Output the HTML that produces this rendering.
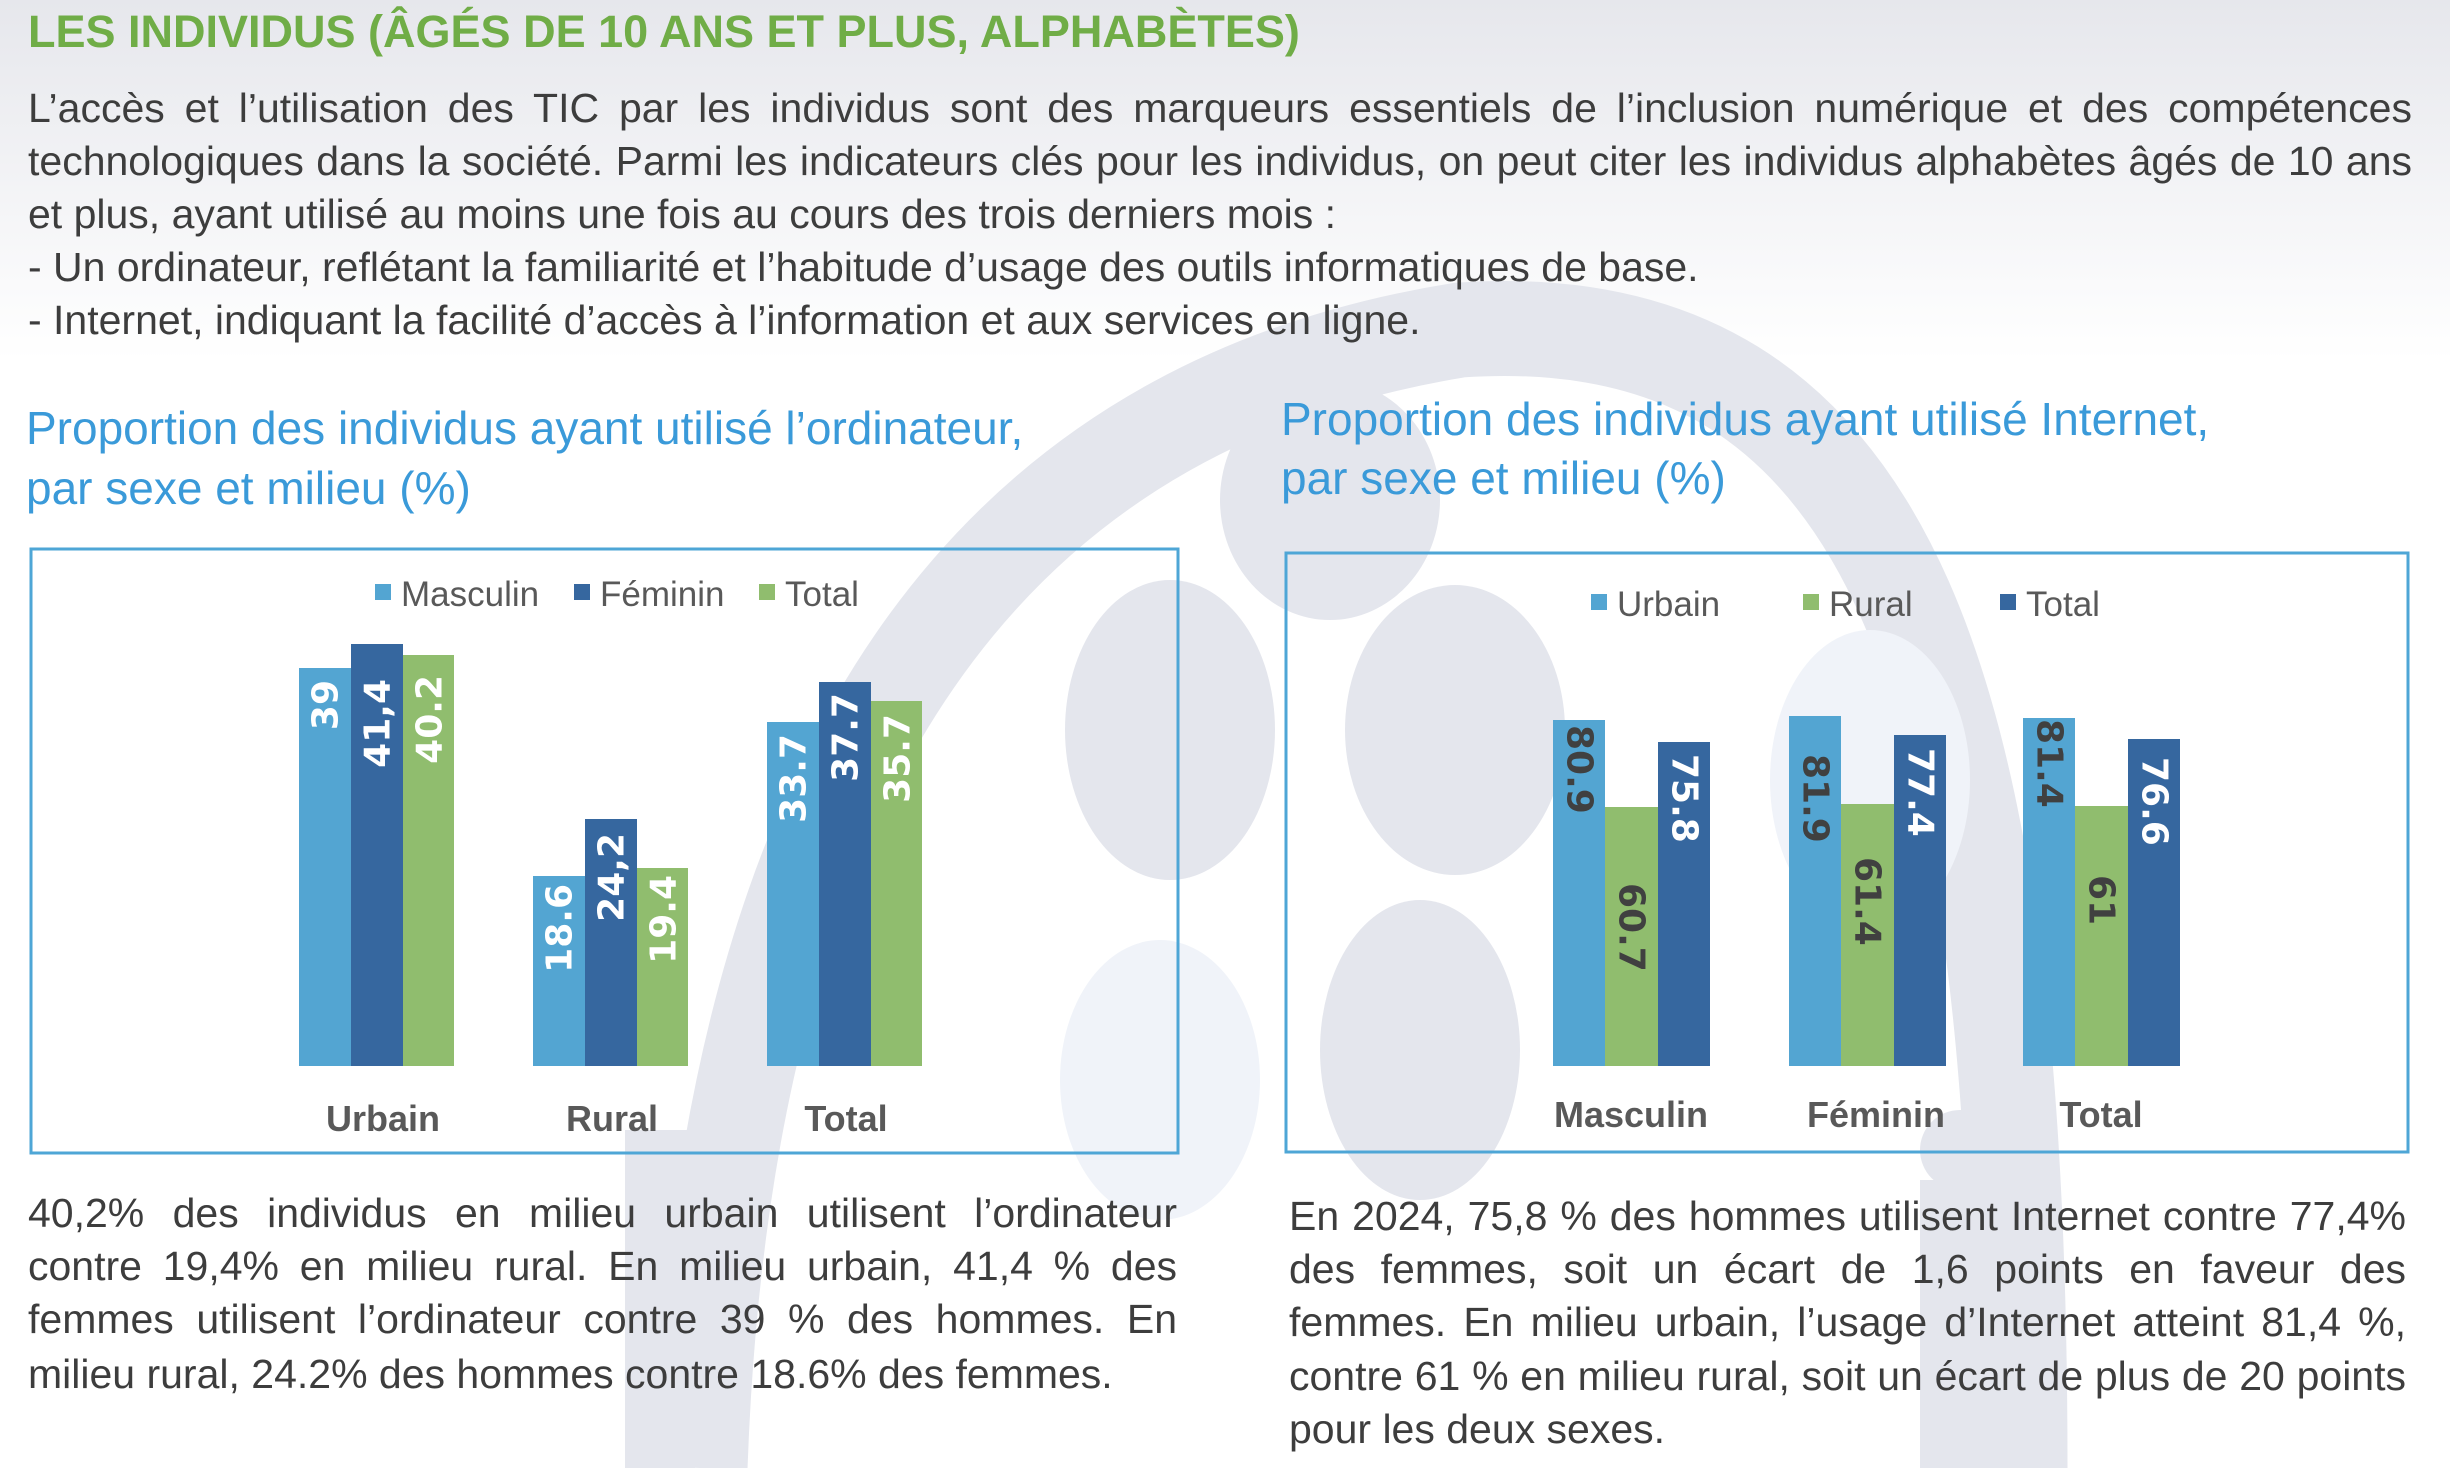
<!DOCTYPE html>
<html><head><meta charset="utf-8"><style>
html,body{margin:0;padding:0}
body{width:2450px;height:1468px;position:relative;overflow:hidden;background:#fff;font-family:"Liberation Sans",sans-serif;color:#3d3d3d}
.bg{position:absolute;left:0;top:0}
.t{position:absolute;white-space:nowrap}
.j{position:absolute;text-align:justify;text-align-last:justify;white-space:nowrap;font-size:41px;color:#3d3d3d}
.l{position:absolute;white-space:nowrap;font-size:41px;color:#3d3d3d}
.ct{position:absolute;font-size:46px;color:#3a9ad9;white-space:nowrap}
</style></head><body>
<svg class="bg" width="2450" height="1468" viewBox="0 0 2450 1468">
<defs><linearGradient id="g" x1="0" y1="0" x2="0" y2="1"><stop offset="0" stop-color="#e6e7ec"/><stop offset="1" stop-color="#ffffff"/></linearGradient></defs>
<rect x="0" y="0" width="2450" height="360" fill="url(#g)"/>
<g fill="none" stroke="#e4e6ed" stroke-width="95">
<path d="M700 1468 C 720 900, 900 420, 1460 330 C 1900 300, 2020 700, 2020 1468"/>
</g>
<g fill="#e4e6ed">
<ellipse cx="1170" cy="730" rx="105" ry="150"/>
<ellipse cx="1455" cy="730" rx="110" ry="145"/>
<ellipse cx="1420" cy="1050" rx="100" ry="150"/>
<ellipse cx="1330" cy="500" rx="110" ry="120"/>
<rect x="625" y="1130" width="70" height="338"/>
<rect x="1920" y="1180" width="80" height="288"/>
<circle cx="1960" cy="1150" r="40"/>
</g>
<g fill="#f0f3f9"><ellipse cx="1160" cy="1080" rx="100" ry="140"/><ellipse cx="1870" cy="780" rx="100" ry="150"/></g>
</svg>

<div class="t" style="left:28px;top:6px;font-size:45px;font-weight:bold;color:#70ad47">LES INDIVIDUS (ÂGÉS DE 10 ANS ET PLUS, ALPHABÈTES)</div>
<div class="j" style="left:28px;top:85px;width:2384px">L’accès et l’utilisation des TIC par les individus sont des marqueurs essentiels de l’inclusion numérique et des compétences</div>
<div class="j" style="left:28px;top:138px;width:2384px">technologiques dans la société. Parmi les indicateurs clés pour les individus, on peut citer les individus alphabètes âgés de 10 ans</div>
<div class="l" style="left:28px;top:191px">et plus, ayant utilisé au moins une fois au cours des trois derniers mois :</div>
<div class="l" style="left:28px;top:244px">- Un ordinateur, reflétant la familiarité et l’habitude d’usage des outils informatiques de base.</div>
<div class="l" style="left:28px;top:297px">- Internet, indiquant la facilité d’accès à l’information et aux services en ligne.</div>

<div class="ct" style="left:26px;top:401px">Proportion des individus ayant utilisé l’ordinateur,</div>
<div class="ct" style="left:26px;top:461px">par sexe et milieu (%)</div>
<div class="ct" style="left:1281px;top:392px">Proportion des individus ayant utilisé Internet,</div>
<div class="ct" style="left:1281px;top:451px">par sexe et milieu (%)</div>

<svg class="bg" width="2450" height="1468" viewBox="0 0 2450 1468" style="font-family:'Liberation Sans Narrow','Liberation Sans',sans-serif">
<rect x="31" y="549" width="1147" height="604" fill="none" stroke="#4ea6d6" stroke-width="3"/>
<rect x="1286" y="553" width="1122" height="599" fill="none" stroke="#4ea6d6" stroke-width="3"/>
<g font-size="35" fill="#595959">
<rect x="375" y="584" width="16" height="16" fill="#53a5d2"/><text x="401" y="606">Masculin</text>
<rect x="574" y="584" width="16" height="16" fill="#36679f"/><text x="600" y="606">Féminin</text>
<rect x="759" y="584" width="16" height="16" fill="#90bd6e"/><text x="785" y="606">Total</text>
<rect x="1591" y="594" width="16" height="16" fill="#53a5d2"/><text x="1617" y="616">Urbain</text>
<rect x="1803" y="594" width="16" height="16" fill="#90bd6e"/><text x="1829" y="616">Rural</text>
<rect x="2000" y="594" width="16" height="16" fill="#36679f"/><text x="2026" y="616">Total</text>
</g>
<g>
<rect x="299" y="668" width="52" height="398" fill="#53a5d2"/><rect x="351" y="644" width="52" height="422" fill="#36679f"/><rect x="403" y="655" width="51" height="411" fill="#90bd6e"/>
<rect x="533" y="876" width="52" height="190" fill="#53a5d2"/><rect x="585" y="819" width="52" height="247" fill="#36679f"/><rect x="637" y="868" width="51" height="198" fill="#90bd6e"/>
<rect x="767" y="722" width="52" height="344" fill="#53a5d2"/><rect x="819" y="682" width="52" height="384" fill="#36679f"/><rect x="871" y="701" width="51" height="365" fill="#90bd6e"/>
</g>
<g font-family="'DejaVu Sans',sans-serif" font-weight="bold" font-size="36" fill="#fff" text-anchor="end" dominant-baseline="central">
<text transform="translate(326,680) rotate(-90)">39</text>
<text transform="translate(378,679) rotate(-90)">41,4</text>
<text transform="translate(430,675) rotate(-90)">40.2</text>
<text transform="translate(560,884) rotate(-90)">18.6</text>
<text transform="translate(612,833) rotate(-90)">24,2</text>
<text transform="translate(664,875) rotate(-90)">19.4</text>
<text transform="translate(794,734) rotate(-90)">33.7</text>
<text transform="translate(846,693) rotate(-90)">37.7</text>
<text transform="translate(898,714) rotate(-90)">35.7</text>
</g>
<g font-size="36" font-weight="bold" fill="#595959" text-anchor="middle">
<text x="383" y="1131">Urbain</text><text x="612" y="1131">Rural</text><text x="846" y="1131">Total</text>
<text x="1631" y="1127">Masculin</text><text x="1876" y="1127">Féminin</text><text x="2101" y="1127">Total</text>
</g>
<g>
<rect x="1553" y="720" width="52" height="346" fill="#53a5d2"/><rect x="1605" y="807" width="53" height="259" fill="#90bd6e"/><rect x="1658" y="742" width="52" height="324" fill="#36679f"/>
<rect x="1789" y="716" width="52" height="350" fill="#53a5d2"/><rect x="1841" y="804" width="53" height="262" fill="#90bd6e"/><rect x="1894" y="735" width="52" height="331" fill="#36679f"/>
<rect x="2023" y="718" width="52" height="348" fill="#53a5d2"/><rect x="2075" y="806" width="53" height="260" fill="#90bd6e"/><rect x="2128" y="739" width="52" height="327" fill="#36679f"/>
</g>
<g font-family="'DejaVu Sans',sans-serif" font-weight="bold" font-size="36" text-anchor="start" dominant-baseline="central">
<text fill="#404040" transform="translate(1579,725) rotate(90)">80.9</text>
<text fill="#404040" transform="translate(1631,883) rotate(90)">60.7</text>
<text fill="#fff" transform="translate(1684,754) rotate(90)">75.8</text>
<text fill="#404040" transform="translate(1815,754) rotate(90)">81.9</text>
<text fill="#404040" transform="translate(1867,857) rotate(90)">61.4</text>
<text fill="#fff" transform="translate(1920,748) rotate(90)">77.4</text>
<text fill="#404040" transform="translate(2049,719) rotate(90)">81.4</text>
<text fill="#404040" transform="translate(2101,875) rotate(90)">61</text>
<text fill="#fff" transform="translate(2154,757) rotate(90)">76.6</text>
</g>
</svg>

<div class="j" style="left:28px;top:1190px;width:1149px">40,2% des individus en milieu urbain utilisent l’ordinateur</div>
<div class="j" style="left:28px;top:1243px;width:1149px">contre 19,4% en milieu rural. En milieu urbain, 41,4 % des</div>
<div class="j" style="left:28px;top:1296px;width:1149px">femmes utilisent l’ordinateur contre 39 % des hommes. En</div>
<div class="l" style="left:28px;top:1351px">milieu rural, 24.2% des hommes contre 18.6% des femmes.</div>

<div class="j" style="left:1289px;top:1193px;width:1117px">En 2024, 75,8 % des hommes utilisent Internet contre 77,4%</div>
<div class="j" style="left:1289px;top:1246px;width:1117px">des femmes, soit un écart de 1,6 points en faveur des</div>
<div class="j" style="left:1289px;top:1299px;width:1117px">femmes. En milieu urbain, l’usage d’Internet atteint 81,4 %,</div>
<div class="j" style="left:1289px;top:1353px;width:1117px">contre 61 % en milieu rural, soit un écart de plus de 20 points</div>
<div class="l" style="left:1289px;top:1406px">pour les deux sexes.</div>
</body></html>
